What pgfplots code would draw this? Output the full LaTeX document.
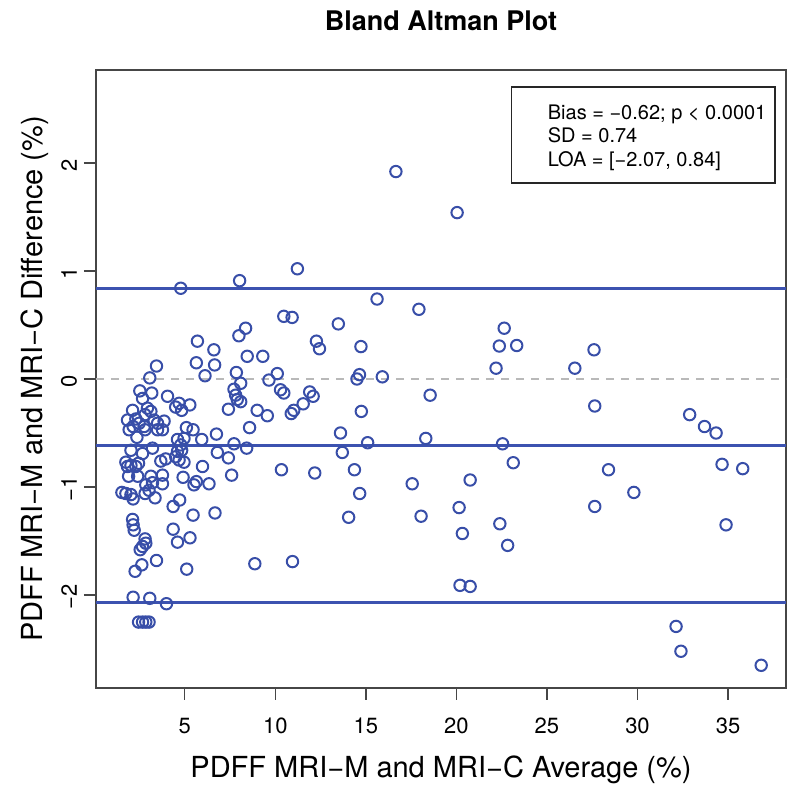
\documentclass[border=0pt]{standalone}
\usepackage{fontspec}
\setmainfont{TeX Gyre Heros}
\usepackage{pgfplots}
\pgfplotsset{compat=1.18}
\definecolor{ptblue}{RGB}{56,78,168}
\definecolor{lnblue}{RGB}{60,82,176}
\definecolor{frame}{RGB}{70,70,70}
\begin{document}
\begin{tikzpicture}
\begin{axis}[
  name=ax,
  anchor=south west, at={(0pt,0pt)},
  scale only axis, width=345pt, height=309pt,
  xmin=0.1, xmax=38.2, ymin=-2.86, ymax=2.86,
  xtick={5,10,15,20,25,30,35},
  ytick={-2,-1,0,1,2},
  yticklabels={−2,−1,0,1,2},
  xtick pos=bottom, ytick pos=left,
  tick align=outside, major tick length=6pt,
  tick style={frame, line width=0.7pt},
  axis line style={frame, line width=0.8pt},
  x tick label style={font=\fontsize{11}{13}\selectfont, yshift=-5.5pt},
  y tick label style={font=\fontsize{11}{13}\selectfont, rotate=90, anchor=south, xshift=-1pt},
  /pgf/number format/assume math mode=true,
  xlabel={PDFF MRI−M and MRI−C Average (\%)},
  ylabel={PDFF MRI−M and MRI−C Difference (\%)},
  xlabel style={font=\fontsize{14.5}{16}\selectfont, at={(axis description cs:0.5,-0.1327)}, anchor=center},
  ylabel style={font=\fontsize{14.5}{16}\selectfont, at={(axis description cs:-0.0884,0.5)}, anchor=center},
  title={\bfseries Bland Altman Plot},
  title style={font=\fontsize{13.5}{15}\selectfont, at={(axis description cs:0.5,1)}, anchor=base, yshift=13.5pt},
  clip=false,
]
\addplot[gray!55, line width=1.1pt, dash pattern=on 4pt off 3.5pt] coordinates {(0.1,0) (38.2,0)};
\addplot[lnblue, line width=1.4pt] coordinates {(0.1,0.84) (38.2,0.84)};
\addplot[lnblue, line width=1.4pt] coordinates {(0.1,-0.615) (38.2,-0.615)};
\addplot[lnblue, line width=1.4pt] coordinates {(0.1,-2.07) (38.2,-2.07)};
\addplot[only marks, mark=o, mark size=2.85pt, mark options={ptblue, line width=1pt}] table {
x y
16.66 1.92
20.04 1.54
11.22 1.02
8.03 0.91
4.78 0.84
15.62 0.74
17.93 0.645
10.47 0.58
10.93 0.57
13.48 0.51
8.36 0.47
22.64 0.47
7.99 0.40
5.70 0.35
12.27 0.35
12.44 0.28
14.73 0.30
22.37 0.305
23.33 0.31
6.61 0.27
27.6 0.27
8.45 0.21
9.31 0.21
5.64 0.15
6.65 0.13
3.44 0.12
22.19 0.10
26.54 0.10
7.85 0.06
10.11 0.05
6.12 0.03
14.65 0.04
14.51 0.00
15.91 0.02
9.65 -0.01
3.07 0.01
8.09 -0.04
7.72 -0.095
10.29 -0.10
10.47 -0.13
2.52 -0.11
3.18 -0.13
11.9 -0.12
12.09 -0.16
18.55 -0.15
7.81 -0.15
7.90 -0.19
4.05 -0.16
2.67 -0.18
8.09 -0.21
11.54 -0.23
4.69 -0.225
4.50 -0.26
5.28 -0.24
4.83 -0.29
2.12 -0.29
2.94 -0.27
3.13 -0.30
2.81 -0.33
7.41 -0.28
9.0 -0.29
11.02 -0.29
10.88 -0.32
14.75 -0.30
27.64 -0.25
9.56 -0.34
32.88 -0.33
1.84 -0.38
2.30 -0.37
2.48 -0.41
3.31 -0.38
3.50 -0.41
3.86 -0.39
33.7 -0.44
1.93 -0.47
2.15 -0.44
2.76 -0.44
2.81 -0.47
3.50 -0.47
3.77 -0.47
2.36 -0.54
5.09 -0.45
5.46 -0.47
8.58 -0.45
13.6 -0.50
34.34 -0.50
5.94 -0.56
6.75 -0.51
4.60 -0.56
4.96 -0.55
4.78 -0.61
7.72 -0.60
15.1 -0.59
18.31 -0.55
22.55 -0.60
8.42 -0.64
2.03 -0.66
2.67 -0.69
3.22 -0.64
4.60 -0.67
4.83 -0.66
6.80 -0.68
13.7 -0.68
7.41 -0.73
3.68 -0.76
3.95 -0.74
4.50 -0.72
4.69 -0.75
4.96 -0.77
23.14 -0.775
1.75 -0.77
1.84 -0.81
2.03 -0.80
2.30 -0.81
2.45 -0.78
34.67 -0.79
35.81 -0.83
10.34 -0.84
5.98 -0.81
14.37 -0.84
28.4 -0.84
12.18 -0.87
7.59 -0.89
1.90 -0.90
2.40 -0.90
3.13 -0.90
3.22 -0.96
3.77 -0.89
3.77 -0.97
4.91 -0.91
5.64 -0.95
5.51 -0.98
6.34 -0.97
2.85 -0.98
17.56 -0.97
20.76 -0.935
1.53 -1.05
1.75 -1.06
2.03 -1.07
2.15 -1.11
2.81 -1.06
3.03 -1.03
3.36 -1.10
14.66 -1.06
29.8 -1.05
4.36 -1.18
4.72 -1.12
27.64 -1.18
20.15 -1.19
5.46 -1.26
6.67 -1.24
14.05 -1.28
18.05 -1.27
2.12 -1.30
2.15 -1.35
2.21 -1.40
4.36 -1.39
22.4 -1.34
34.89 -1.35
20.33 -1.43
5.29 -1.47
4.60 -1.51
2.81 -1.48
2.85 -1.52
2.67 -1.55
2.54 -1.58
22.83 -1.54
3.44 -1.68
10.95 -1.69
8.87 -1.71
2.63 -1.72
5.11 -1.76
2.26 -1.78
20.2 -1.91
20.76 -1.92
2.15 -2.02
3.07 -2.03
3.99 -2.08
2.45 -2.25
2.67 -2.25
2.85 -2.25
3.03 -2.25
32.13 -2.29
32.4 -2.52
36.83 -2.65
};
\draw[black!85, line width=0.7pt] (axis description cs:0.6023,0.8172) rectangle (axis description cs:0.9841,0.9725);
\node[anchor=base west, font=\fontsize{10}{12}\selectfont, inner sep=0pt] at (axis description cs:0.6543,0.9202) {Bias = −0.62; p < 0.0001};
\node[anchor=base west, font=\fontsize{10}{12}\selectfont, inner sep=0pt] at (axis description cs:0.6543,0.8824) {SD = 0.74};
\node[anchor=base west, font=\fontsize{10}{12}\selectfont, inner sep=0pt] at (axis description cs:0.6543,0.8435) {LOA = [−2.07, 0.84]};
\end{axis}
\pgfresetboundingbox
\path (-48pt,-54pt) rectangle (352pt,344pt);
\end{tikzpicture}
\end{document}
